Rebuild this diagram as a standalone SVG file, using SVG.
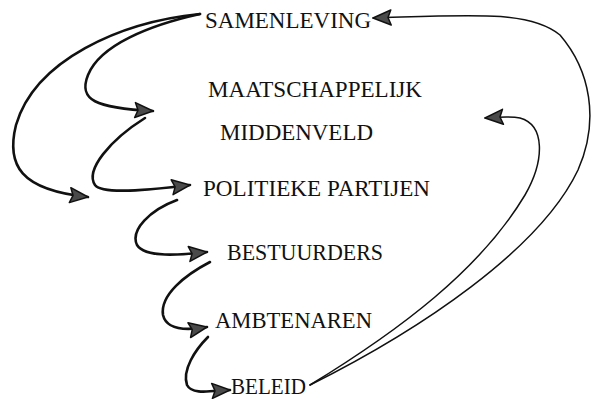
<svg xmlns="http://www.w3.org/2000/svg" width="592" height="399" viewBox="0 0 592 399">
<style>
text{font-family:"Liberation Serif","Times New Roman",serif;font-size:24px;fill:#111}
.thick{fill:none;stroke:#111;stroke-width:2.6;stroke-linecap:round}
.thin{fill:none;stroke:#111;stroke-width:1.5;stroke-linecap:round}
</style>
<defs>
<marker id="ah" markerUnits="userSpaceOnUse" viewBox="-20 -10 22 20" refX="0" refY="0" markerWidth="22" markerHeight="20" orient="auto">
<path d="M0,0 L-18,-7.5 L-15,0 L-18,7.5 Z" fill="#4a4a4a" stroke="#111" stroke-width="1.5" stroke-linejoin="round"/>
</marker>
</defs>
<rect width="592" height="399" fill="#fff"/>
<g id="connectors">
<path class="thick" marker-end="url(#ah)" d="M200,14 C120,22 35,60 16,125 C6,165 20,190 88,197"/>
<path class="thick" marker-end="url(#ah)" d="M200,14 C150,25 100,45 88,75 C78,100 95,108 153,111"/>
<path class="thick" marker-end="url(#ah)" d="M145,118 C110,140 85,170 95,185 C102,195 150,190 190,185"/>
<path class="thick" marker-end="url(#ah)" d="M177,200 C150,210 130,230 137,245 C145,258 180,255 207,252"/>
<path class="thick" marker-end="url(#ah)" d="M210,262 C185,275 160,295 163,315 C167,332 190,330 207,327"/>
<path class="thick" marker-end="url(#ah)" d="M208,337 C195,350 182,370 187,385 C192,395 210,391 230,390"/>
<path class="thin" marker-end="url(#ah)" d="M310,385 C400,330 480,270 525,195 C545,160 545,125 520,118 C510,116 500,117 485,118"/>
<path class="thin" marker-end="url(#ah)" d="M310,385 C420,330 540,250 578,170 C600,120 590,70 560,35 C530,10 470,15 373,18"/>
</g>
<g id="samenleving"><text x="205" y="28" textLength="166" lengthAdjust="spacingAndGlyphs">SAMENLEVING</text></g>
<g id="maatschappelijk-middenveld">
<text x="208" y="97" textLength="214" lengthAdjust="spacingAndGlyphs">MAATSCHAPPELIJK</text>
<text x="220" y="140" textLength="153" lengthAdjust="spacingAndGlyphs">MIDDENVELD</text>
</g>
<g id="politieke-partijen"><text x="203" y="196" textLength="227" lengthAdjust="spacingAndGlyphs">POLITIEKE PARTIJEN</text></g>
<g id="bestuurders"><text x="227" y="260" textLength="156" lengthAdjust="spacingAndGlyphs">BESTUURDERS</text></g>
<g id="ambtenaren"><text x="215" y="328" textLength="157" lengthAdjust="spacingAndGlyphs">AMBTENAREN</text></g>
<g id="beleid"><text x="231" y="394" textLength="75" lengthAdjust="spacingAndGlyphs">BELEID</text></g>
</svg>
